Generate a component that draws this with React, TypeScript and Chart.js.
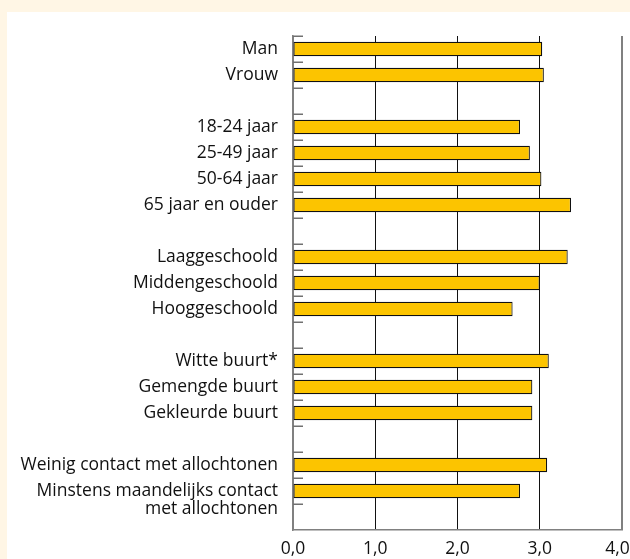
import React, { useEffect, useRef } from "react";
import { Chart, registerables } from "chart.js";

Chart.register(...registerables);

const categories: (string | string[])[] = [
  "Man",
  "Vrouw",
  "",
  "18-24 jaar",
  "25-49 jaar",
  "50-64 jaar",
  "65 jaar en ouder",
  "",
  "Laaggeschoold",
  "Middengeschoold",
  "Hooggeschoold",
  "",
  "Witte buurt*",
  "Gemengde buurt",
  "Gekleurde buurt",
  "",
  "Weinig contact met allochtonen",
  ["", "Minstens maandelijks contact", "met allochtonen"],
  "",
];

const values: (number | null)[] = [
  3.03, 3.05, null,
  2.76, 2.88, 3.02, 3.38, null,
  3.34, 3.0, 2.67, null,
  3.11, 2.91, 2.91, null,
  3.09, 2.76, null,
];

const xTicks = [0, 1, 2, 3, 4];

const FONT = "'Open Sans', 'Noto Sans', sans-serif";

const innerTicks = {
  id: "innerTicks",
  afterDraw(chart: any) {
    const y = chart.scales.y;
    const area = chart.chartArea;
    const ctx = chart.ctx;
    const n = categories.length;
    const half = (y.getPixelForValue(1) - y.getPixelForValue(0)) / 2;
    ctx.save();
    ctx.strokeStyle = "#707070";
    ctx.lineWidth = 1.5;
    for (let i = 0; i < n; i++) {
      const py = Math.round(y.getPixelForValue(i) - half) + 0.25;
      ctx.beginPath();
      ctx.moveTo(area.left, py);
      ctx.lineTo(area.left + 10, py);
      ctx.stroke();
    }
    ctx.restore();
  },
};

export default function App() {
  const ref = useRef<HTMLCanvasElement>(null);
  useEffect(() => {
    if (!ref.current) return;
    const chart = new Chart(ref.current, {
      type: "bar",
      data: {
        labels: categories,
        datasets: [
          {
            data: values,
            backgroundColor: "#FCC400",
            borderColor: "#111111",
            borderWidth: 1.2,
            borderSkipped: false,
            barPercentage: 0.55,
            categoryPercentage: 1,
          },
        ],
      },
      options: {
        indexAxis: "y",
        animation: false,
        responsive: false,
        events: [],
        layout: { padding: { top: 24, right: 8, left: 0, bottom: 0 } },
        plugins: { legend: { display: false }, tooltip: { enabled: false } },
        scales: {
          y: {
            type: "category",
            offset: true,
            grid: { display: false, drawTicks: false },
            border: { display: true, color: "#808080", width: 1.5 },
            ticks: {
              autoSkip: false,
              padding: 15,
              color: "#111111",
              font: { family: FONT, size: 17.5, lineHeight: 1.03 },
            },
            afterFit: (s: any) => {
              s.width = 286;
            },
          },
          x: {
            min: 0,
            max: 4,
            afterBuildTicks: (s: any) => {
              s.ticks = xTicks.map((v) => ({ value: v }));
            },
            grid: {
              drawTicks: false,
              color: (c: any) =>
                c.tick && (c.tick.value === 4 || c.tick.value === 0) ? "#808080" : "#111111",
              lineWidth: (c: any) => (c.tick && c.tick.value === 4 ? 2 : 1),
            },
            border: { display: true, color: "#808080", width: 1.5 },
            ticks: {
              padding: 9,
              color: "#111111",
              font: { family: FONT, size: 17.5 },
              callback: (v: any) => {
                const s = Number(v).toFixed(1).replace(".", ",");
                return Number(v) === 4 ? s + "  " : s;
              },
            },
            afterFit: (s: any) => {
              s.height = 29;
              s.paddingLeft = 0;
              s.paddingRight = 0;
            },
          },
        },
      },
      plugins: [innerTicks],
    });
    return () => chart.destroy();
  }, []);

  return (
    <div
      style={{
        position: "absolute",
        left: 0,
        top: 0,
        width: 630,
        height: 559,
        background: "#FFF6E5",
        overflow: "hidden",
      }}
    >
      <div
        style={{
          position: "absolute",
          left: 7,
          top: 12,
          width: 623,
          height: 547,
          background: "#FFFFFF",
        }}
      >
        <canvas ref={ref} width={623} height={547} style={{ display: "block", width: 623, height: 547 }} />
      </div>
    </div>
  );
}
